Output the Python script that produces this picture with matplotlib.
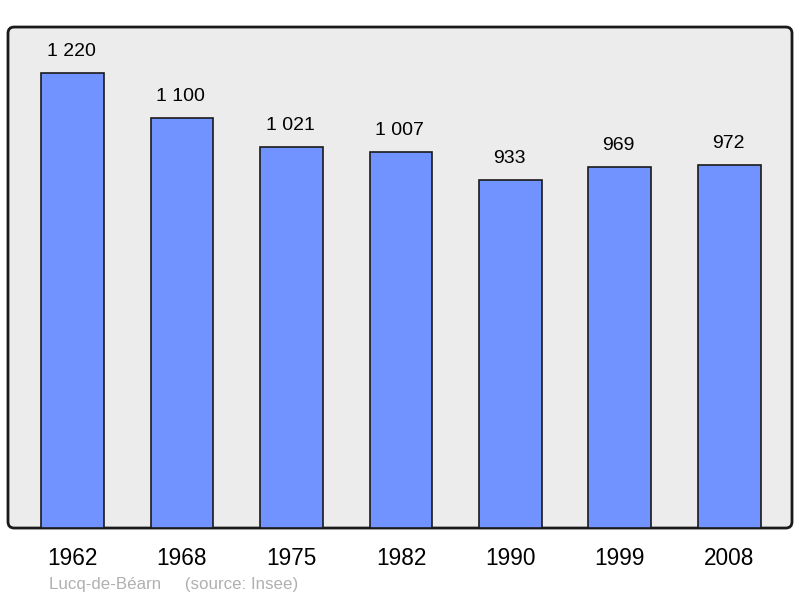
import matplotlib
matplotlib.use("Agg")
import matplotlib.pyplot as plt
from matplotlib.patches import FancyBboxPatch

plt.rcParams['font.family'] = ['Liberation Sans', 'DejaVu Sans']

years = ['1962', '1968', '1975', '1982', '1990', '1999', '2008']
population = [1220, 1100, 1021, 1007, 933, 969, 972]
value_labels = ['1 220', '1 100', '1 021', '1 007', '933', '969', '972']

fig = plt.figure(figsize=(8, 5.98), dpi=100)
ax = fig.add_axes([0.01, 0.117, 0.98, 0.8378])
ax.patch.set_visible(False)
for s in ax.spines.values():
    s.set_visible(False)

# rounded frame
frame = FancyBboxPatch((0, 0), 1, 1, boxstyle="round,pad=0,rounding_size=0.008",
                       mutation_aspect=784 / 501, transform=ax.transAxes,
                       facecolor='#ececec', edgecolor='#1a1a1a', linewidth=2,
                       zorder=0, clip_on=False)
ax.add_patch(frame)

x = list(range(len(years)))
ax.bar(x, population, width=0.575, color='#7093ff', edgecolor='#1a1a1a',
       linewidth=1.2, zorder=2)

for xi, v, lab in zip(x, population, value_labels):
    ax.annotate(lab, (xi, v), xytext=(-1, 15.5), textcoords='offset points',
                ha='center', va='center', fontsize=14)

ax.set_xlim(-0.589, 6.571)
ax.set_ylim(0, 1343)
ax.set_yticks([])
ax.set_xticks(x)
ax.set_xticklabels(years, fontsize=16.3)
ax.tick_params(axis='x', length=0, pad=14)

fig.text(49 / 800, 1 - 584 / 598, 'Lucq-de-Béarn     (source: Insee)',
         color='#b0b0b0', fontsize=12.2, ha='left', va='center')

fig.savefig('out.png', dpi=100)
